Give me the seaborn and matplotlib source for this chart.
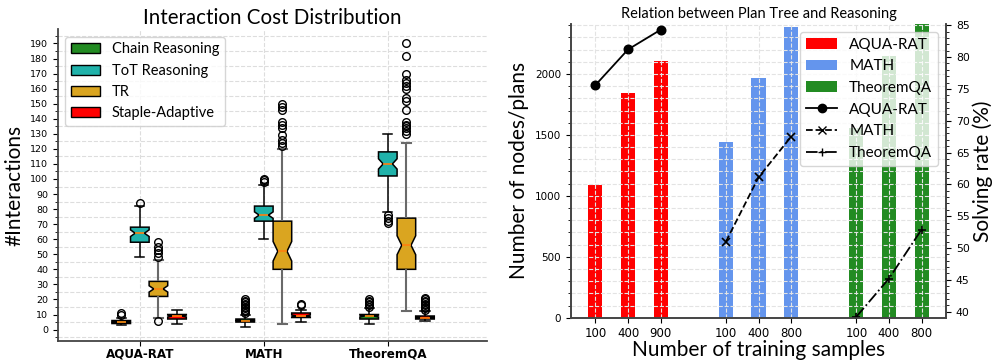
import numpy as np
import pandas as pd
import seaborn as sns
import matplotlib
matplotlib.use("Agg")
import matplotlib.pyplot as plt
from matplotlib.patches import Patch
from matplotlib.lines import Line2D
from matplotlib.ticker import MultipleLocator

plt.rcParams["font.family"] = ["DejaVu Sans"]
LABEL_FONT = ["Lato", "DejaVu Sans"]

# ---- left panel: interaction counts (value, number of samples) ----
datasets = ["AQUA-RAT", "MATH", "TheoremQA"]
methods = ["Chain Reasoning", "ToT Reasoning", "TR", "Staple-Adaptive"]
method_colors = ["forestgreen", "lightseagreen", "goldenrod", "red"]

chain_vals = [[3, 4, 5, 6, 8, 10, 11],
              [2, 5, 6, 7, 10, 11, 12, 13, 14, 15, 16, 17, 18, 19, 20],
              [4, 7, 9, 10, 14, 15, 16, 17, 18, 19, 20]]
chain_cnts = [[1, 16, 16, 16, 1, 1, 1],
              [1, 16, 16, 16, 1, 1, 1, 1, 1, 1, 1, 1, 1, 1, 1],
              [1, 16, 16, 16, 1, 1, 1, 1, 1, 1, 1]]

tot_vals = [[48, 58, 64, 68, 82, 84],
            [60, 72, 76, 82, 96, 98, 99, 100],
            [71, 72, 74, 76, 78, 102, 110, 118, 130]]
tot_cnts = [[1, 16, 16, 16, 1, 1],
            [1, 16, 16, 16, 1, 1, 1, 1],
            [1, 1, 1, 1, 1, 16, 16, 16, 1]]

tr_vals = [[6, 8, 22, 27, 32, 46, 48, 51, 53, 55, 58],
           [4, 40, 52, 72, 120, 122, 124, 126, 129, 134, 136, 138, 146, 148, 150],
           [12, 40, 56, 74, 124, 130, 132, 134, 135, 136, 138, 146, 152, 154,
            160, 162, 164, 166, 170, 182, 190]]
tr_cnts = [[1, 1, 16, 16, 16, 1, 1, 1, 1, 1, 1],
           [1, 16, 16, 16, 1, 1, 1, 1, 1, 1, 1, 1, 1, 1, 1],
           [1, 18, 18, 18, 1, 1, 1, 1, 1, 1, 1, 1, 1, 1, 1, 1, 1, 1, 1, 1, 1]]

staple_vals = [[4, 7, 9, 10, 13],
               [5, 8, 9, 11, 13, 16, 17],
               [6, 7, 8, 9, 12, 13, 14, 15, 16, 17, 18, 19, 20, 21]]
staple_cnts = [[1, 16, 16, 16, 1],
               [1, 16, 16, 16, 1, 1, 1],
               [1, 16, 16, 16, 1, 1, 1, 1, 1, 1, 1, 1, 1, 1]]

# ---- right panel ----
bar_names = ["AQUA-RAT", "MATH", "TheoremQA"]
bar_colors = ["red", "cornflowerblue", "forestgreen"]
samples_aqua = [100, 400, 900]
samples_math = [100, 400, 800]
samples_tqa = [100, 400, 800]
nodes_aqua = [1090, 1845, 2110]
nodes_math = [1440, 1970, 2385]
nodes_tqa = [1557, 2145, 2600]
rate_aqua = [75.6, 81.2, 84.3]
rate_math = [51.0, 61.1, 67.5]
rate_tqa = [39.2, 45.2, 52.9]

# build long table for the boxplots
rows = []
all_vals = [chain_vals, tot_vals, tr_vals, staple_vals]
all_cnts = [chain_cnts, tot_cnts, tr_cnts, staple_cnts]
for m, name in enumerate(methods):
    for d, ds in enumerate(datasets):
        for v in np.repeat(all_vals[m][d], all_cnts[m][d]):
            rows.append((ds, name, float(v)))
df = pd.DataFrame(rows, columns=["dataset", "method", "interactions"])

# an empty leading hue level puts the ToT box on the group tick
hue_order = ["_pad"] + methods
palette = dict(zip(hue_order, ["white"] + method_colors))

fig = plt.figure(figsize=(9.93, 3.6), dpi=100)
ax = fig.add_axes([0.0584, 0.0536, 0.432, 0.865])
ax_r = fig.add_axes([0.575, 0.1175, 0.3777, 0.8158])

for name in methods:
    wcol = "dimgray" if name == "TR" else "black"
    wlw = 1.5 if name == "TR" else 1.1
    sns.boxplot(data=df[df.method == name], x="dataset", y="interactions", hue="method",
                order=datasets, hue_order=hue_order, palette=palette, width=0.75, gap=0,
                dodge=True, saturation=1, notch=True, linecolor="black", linewidth=1.1,
                fliersize=5.5,
                whiskerprops=dict(color=wcol, linewidth=wlw),
                capprops=dict(color=wcol, linewidth=wlw),
                medianprops=dict(color="#ff7f0e", linewidth=1.2),
                flierprops=dict(marker="o", markerfacecolor="none", markeredgecolor="black"),
                legend=False, ax=ax)

ax.set_xlim(-0.66, 2.8)
ax.set_ylim(-7.4, 199.4)
ax.yaxis.set_major_locator(MultipleLocator(10))
ax.yaxis.set_minor_locator(MultipleLocator(5))
ax.set_xticks(range(len(datasets)))
ax.set_xticklabels(datasets, fontweight="bold", fontsize=8.6)
ax.tick_params(axis="x", pad=1.5)
ax.tick_params(axis="y", labelsize=6.8)
ax.set_xlabel("")
ax.set_ylabel("#Interactions", family=LABEL_FONT, fontsize=15)
ax.set_title("Interaction Cost Distribution", family=LABEL_FONT, fontsize=14.8, pad=4)
ax.grid(True, which="minor", axis="y", ls="--", color="#dddddd", lw=0.8)
ax.grid(True, which="major", axis="x", ls="--", color="#dddddd", lw=0.8)
for s in ["top", "right"]:
    ax.spines[s].set_visible(False)
for s in ["left", "bottom"]:
    ax.spines[s].set_color("#444444")
    ax.spines[s].set_linewidth(1.3)
box_handles = [Patch(facecolor=c, edgecolor="black", label=n) for n, c in zip(methods, method_colors)]
ax.legend(handles=box_handles, loc="upper left", prop=dict(family=LABEL_FONT, size=10.5),
          framealpha=0.8)

# right panel
groups = [(samples_aqua, nodes_aqua, rate_aqua),
          (samples_math, nodes_math, rate_math),
          (samples_tqa, nodes_tqa, rate_tqa)]
bar_rows = []
tick_pos, tick_lab = [], []
for g, (smp, nodes, rate) in enumerate(groups):
    for i in range(len(smp)):
        p = g * 4 + i
        bar_rows.append((p, bar_names[g], nodes[i], rate[i]))
        tick_pos.append(p)
        tick_lab.append(str(smp[i]))
bars = pd.DataFrame(bar_rows, columns=["pos", "dataset", "nodes", "rate"])

sns.barplot(data=bars, x="pos", y="nodes", hue="dataset", hue_order=bar_names,
            palette=dict(zip(bar_names, bar_colors)), native_scale=True, dodge=False,
            width=0.43, saturation=1, errorbar=None, legend=False, ax=ax_r)

ax2 = ax_r.twinx()
line_styles = [("o", "-"), ("x", "--"), ("+", "-.")]
for name, (mk, ls) in zip(bar_names, line_styles):
    sub = bars[bars.dataset == name]
    sns.lineplot(x=sub["pos"].to_numpy(), y=sub["rate"].to_numpy(), ax=ax2, color="black",
                 marker=mk, linestyle=ls, markersize=6, linewidth=1.3,
                 markeredgecolor="black", markeredgewidth=1.2)

ax_r.set_xlim(-0.75, 10.75)
ax_r.set_ylim(0, 2410)
ax2.set_ylim(39.05, 85.2)
ax_r.set_xticks(tick_pos)
ax_r.set_xticklabels(tick_lab, fontsize=8.5)
ax_r.yaxis.set_major_locator(MultipleLocator(500))
ax_r.yaxis.set_minor_locator(MultipleLocator(100))
ax_r.tick_params(axis="y", labelsize=7.5)
ax2.yaxis.set_major_locator(MultipleLocator(5))
ax2.yaxis.set_minor_locator(MultipleLocator(1))
ax2.tick_params(axis="y", labelsize=7.8)
ax_r.grid(True, which="both", axis="y", ls="--", color="#e3e3e3", lw=0.8)
ax_r.grid(True, which="major", axis="x", ls="--", color="#e3e3e3", lw=0.8)
ax_r.set_xlabel("Number of training samples", family=LABEL_FONT, fontsize=15, labelpad=0)
ax_r.set_ylabel("Number of nodes/plans", family=LABEL_FONT, fontsize=15)
ax2.set_ylabel("Solving rate (%)", family=LABEL_FONT, fontsize=15, labelpad=2)
ax_r.set_title("Relation between Plan Tree and Reasoning", family=LABEL_FONT, fontsize=10.5, pad=4)
for a in (ax_r, ax2):
    a.spines["top"].set_visible(False)
    for s in ["left", "bottom", "right"]:
        a.spines[s].set_color("#444444")
        a.spines[s].set_linewidth(1.2)

leg_handles = [Patch(facecolor=c, label=n) for n, c in zip(bar_names, bar_colors)]
leg_handles += [Line2D([], [], color="black", marker=mk, linestyle=ls, markersize=6,
                       linewidth=1.3, label=n)
                for n, (mk, ls) in zip(bar_names, line_styles)]
ax2.legend(handles=leg_handles, loc="upper right", prop=dict(family=LABEL_FONT, size=11),
           framealpha=0.8)

fig.savefig("out.png", dpi=100)
